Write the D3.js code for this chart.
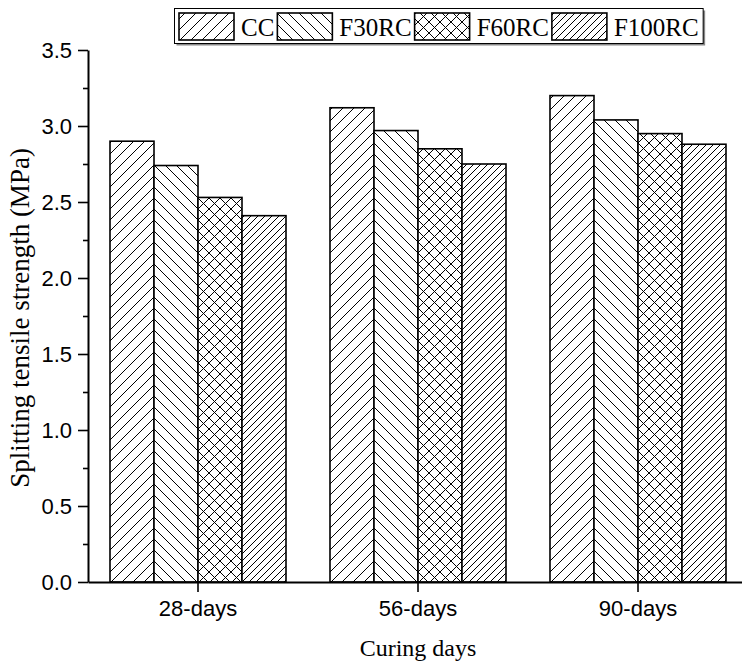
<!DOCTYPE html>
<html>
<head>
<meta charset="utf-8">
<script src="https://cdn.jsdelivr.net/npm/d3@7/dist/d3.min.js"></script>
<style>
  html, body { margin: 0; padding: 0; background: #fff; }
  svg { display: block; }
  .serif { font-family: "Liberation Serif", "Times New Roman", Times, serif; }
  .sans { font-family: "Liberation Sans", Arial, Helvetica, sans-serif; }
</style>
</head>
<body>
<svg id="chart" width="742" height="666"></svg>
<script>
// Splitting tensile strength by curing age and mix
const categories = ["28-days", "56-days", "90-days"];
const seriesNames = ["CC", "F30RC", "F60RC", "F100RC"];
const ccValues = [2.90, 3.12, 3.20];
const f30rcValues = [2.74, 2.97, 3.04];
const f60rcValues = [2.53, 2.85, 2.95];
const f100rcValues = [2.41, 2.75, 2.88];
const yTicks = [0, 0.5, 1.0, 1.5, 2.0, 2.5, 3.0, 3.5];
const yMinorTicks = [0.25, 0.75, 1.25, 1.75, 2.25, 2.75, 3.25];

const seriesValues = [ccValues, f30rcValues, f60rcValues, f100rcValues];
const rows = categories.map((c, i) => ({
  category: c,
  values: seriesNames.map((s, j) => ({ series: s, value: seriesValues[j][i] }))
}));

const svg = d3.select("#chart");
const margin = { left: 88, right: -6, top: 50, bottom: 84 };
const W = 742, H = 666;

const x0 = d3.scaleBand()
  .domain(categories)
  .range([margin.left, W - margin.right])
  .paddingInner(0.2)
  .paddingOuter(0.1);
const x1 = d3.scaleBand()
  .domain(seriesNames)
  .range([0, x0.bandwidth()])
  .padding(0);
const y = d3.scaleLinear()
  .domain([0, 3.5])
  .range([H - margin.bottom, margin.top]);

// Hatch fills
const defs = svg.append("defs");
function hatch(id, size, dirs) {
  const p = defs.append("pattern")
    .attr("id", id)
    .attr("patternUnits", "userSpaceOnUse")
    .attr("width", size).attr("height", size);
  p.append("rect").attr("width", size).attr("height", size).attr("fill", "#fff");
  const s = size;
  let d = "";
  if (dirs.includes("/")) d += `M0,${s} L${s},0 M-1,1 L1,-1 M${s-1},${s+1} L${s+1},${s-1} `;
  if (dirs.includes("\\")) d += `M0,0 L${s},${s} M-1,${s-1} L1,${s+1} M${s-1},-1 L${s+1},1 `;
  p.append("path").attr("d", d).attr("stroke", "#000").attr("stroke-width", 1).attr("fill", "none");
}
hatch("pat-cc", 11, ["/"]);
hatch("pat-f30", 11, ["\\"]);
hatch("pat-f60", 11, ["/", "\\"]);
hatch("pat-f100", 7, ["/"]);
const fills = d3.scaleOrdinal()
  .domain(seriesNames)
  .range(["url(#pat-cc)", "url(#pat-f30)", "url(#pat-f60)", "url(#pat-f100)"]);

// Bars
const groups = svg.append("g").selectAll("g")
  .data(rows).join("g")
  .attr("transform", d => `translate(${x0(d.category)},0)`);
groups.selectAll("rect")
  .data(d => d.values).join("rect")
  .attr("x", d => x1(d.series))
  .attr("y", d => y(d.value))
  .attr("width", x1.bandwidth())
  .attr("height", d => y(0) - y(d.value))
  .attr("fill", d => fills(d.series))
  .attr("stroke", "#000")
  .attr("stroke-width", 1.6);

// Y axis
const yAxis = svg.append("g")
  .attr("transform", `translate(${margin.left},0)`)
  .call(d3.axisLeft(y).tickValues(yTicks).tickFormat(d3.format(".1f"))
    .tickSize(10).tickSizeOuter(0).tickPadding(6));
yAxis.attr("font-family", null).attr("font-size", null);
yAxis.select(".domain").attr("stroke-width", 2);
yAxis.selectAll(".tick line").attr("stroke-width", 1.6);
yAxis.selectAll("text")
  .attr("class", "sans")
  .style("font-size", "22px").attr("fill", "#000");
svg.append("g")
  .attr("transform", `translate(${margin.left},0)`)
  .call(d3.axisLeft(y).tickValues(yMinorTicks).tickSize(5).tickSizeOuter(0).tickFormat(""))
  .call(g => g.select(".domain").remove())
  .selectAll(".tick line").attr("stroke-width", 1.6);

// X axis
const xAxis = svg.append("g")
  .attr("transform", `translate(0,${y(0)})`)
  .call(d3.axisBottom(x0).tickSize(10).tickSizeOuter(0).tickPadding(8));
xAxis.attr("font-family", null).attr("font-size", null);
xAxis.select(".domain").attr("stroke-width", 2);
xAxis.selectAll(".tick line").attr("stroke-width", 1.6);
xAxis.selectAll("text")
  .attr("class", "sans")
  .style("font-size", "22px").attr("fill", "#000");

// Axis titles
svg.append("text")
  .attr("class", "serif")
  .attr("x", (margin.left + W - margin.right) / 2)
  .attr("y", 656)
  .attr("text-anchor", "middle")
  .style("font-size", "24px")
  .text("Curing days");
svg.append("text")
  .attr("class", "serif")
  .attr("transform", `translate(29,${(y(0) + y(3.5)) / 2 + 2}) rotate(-90)`)
  .attr("text-anchor", "middle")
  .style("font-size", "27px")
  .text("Splitting tensile strength (MPa)");

// Legend
const legend = svg.append("g");
const lgX = 174, lgY = 8, lgH = 35, swW = 55, swH = 27;
const shadow = legend.append("rect").attr("fill", "#888");
const box = legend.append("rect").attr("fill", "#fff").attr("stroke", "#000").attr("stroke-width", 1);
let cursor = lgX + 5;
seriesNames.forEach(name => {
  legend.append("rect")
    .attr("x", cursor).attr("y", lgY + 5)
    .attr("width", swW).attr("height", swH)
    .attr("fill", fills(name)).attr("stroke", "#000").attr("stroke-width", 1.6);
  cursor += swW + 7;
  const t = legend.append("text")
    .attr("class", "serif")
    .attr("x", cursor).attr("y", lgY + 28)
    .style("font-size", "25px")
    .text(name);
  cursor += t.node().getComputedTextLength() + 3;
});
const lgW = cursor + 1 - lgX;
box.attr("x", lgX + 0.5).attr("y", lgY + 0.5).attr("width", lgW).attr("height", lgH);
shadow.attr("x", lgX + 2.5).attr("y", lgY + 2.5).attr("width", lgW).attr("height", lgH);
</script>
</body>
</html>
